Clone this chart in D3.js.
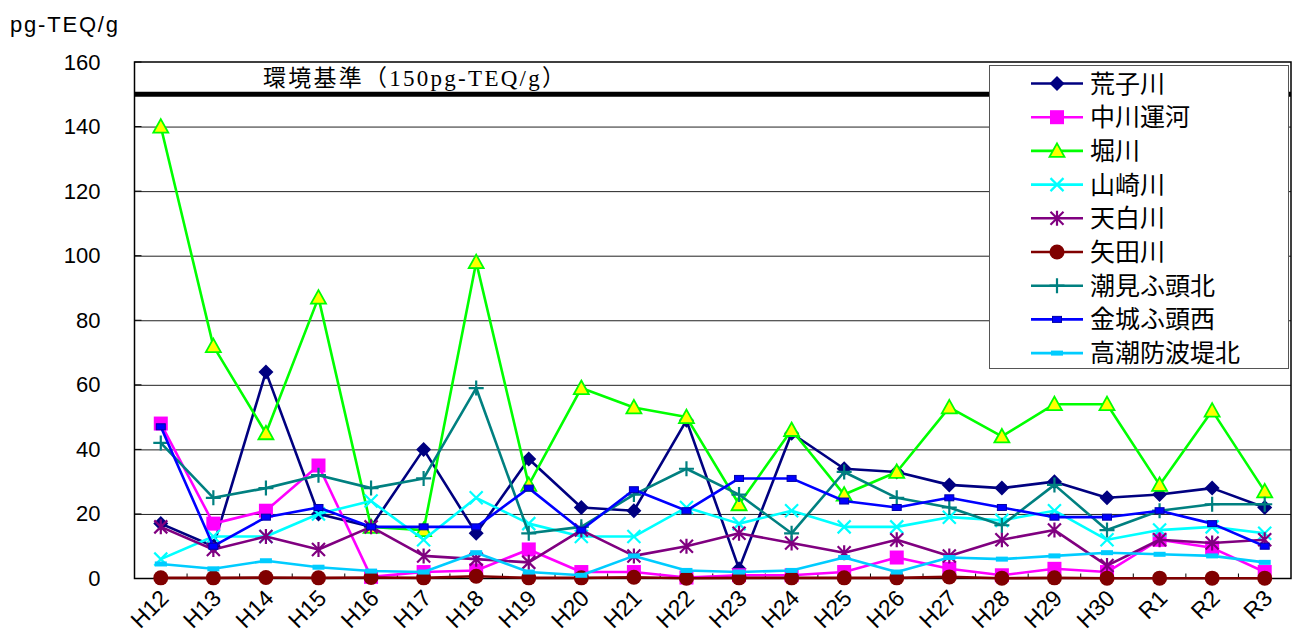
<!DOCTYPE html>
<html lang="ja">
<head>
<meta charset="utf-8">
<script src="https://cdn.jsdelivr.net/npm/d3@7"></script>
<style>
  html, body { margin: 0; padding: 0; background: #fff; }
  svg { display: block; }
</style>
</head>
<body>
<svg id="chart" width="1300" height="635"></svg>
<script>
// 年度
const years = ["H12","H13","H14","H15","H16","H17","H18","H19","H20","H21","H22",
               "H23","H24","H25","H26","H27","H28","H29","H30","R1","R2","R3"];

// 各地点のダイオキシン類濃度 (pg-TEQ/g)
const arakogawa   = [17,10,64,20,16,40,14,37,22,21,49,3,45,34,33,29,28,30,25,26,28,22];
const nakagawa    = [48,17,21,35,0.5,2,2.5,9,2,2,0.3,1,1,2,6.5,3,1,3,2,12,9.5,2];
const horikawa    = [140,72,45,87,16,15,98,29,59,53,50,23,46,26,33,53,44,54,54,29,52,27];
const yamazaki    = [6,13,13,20,24,12,25,17,13,13,22,17,21,16,16,19,18,21,12,15,16,14];
const tempaku     = [16,9,13,9,16,7,6,5,15,7,10,14,11,8,12,7,12,15,4,12,11,12];
const yadagawa    = [0.2,0.2,0.3,0.2,0.3,0.2,0.7,0.2,0.2,0.4,0.1,0.2,0.2,0.2,0.2,0.5,0.1,0.2,0.1,0.1,0.1,0.1];
const shiomi      = [42,25,28,32,28,31,59,14,16,26,34,26,14,33,25,22,16.5,29,15,21,23,23];
const kinjo       = [47,10,19,22,16,16,16,28,15,27.5,21,31,31,24,22,25,22,19,19,21,17,10];
const takashio    = [4.5,3,5.5,3.5,2.3,2,8,2,1,7,2.5,2,2.5,6.5,2,6.5,6,7,8,7.5,7,5];

// 目盛
const yTicks = [0,20,40,60,80,100,120,140,160];
const standardValue = 150;
const standardLabel = "環境基準（150pg-TEQ/g）";
const unitLabel = "pg-TEQ/g";

// 系列名・色・マーカー
const seriesNames  = ["荒子川","中川運河","堀川","山崎川","天白川","矢田川","潮見ふ頭北","金城ふ頭西","高潮防波堤北"];
const seriesValues = [arakogawa, nakagawa, horikawa, yamazaki, tempaku, yadagawa, shiomi, kinjo, takashio];
const seriesColors = ["#000080","#FF00FF","#00FF00","#00FFFF","#800080","#800000","#008080","#0000FF","#00CCFF"];
const seriesMarks  = ["diamond","square","triangle","cross","asterisk","circle","plus","dash","bar"];

const SANS = '"Liberation Sans", Arial, sans-serif';
const SERIF = '"Liberation Serif", "Noto Sans CJK JP", serif';
const CJK = '"Noto Sans CJK JP", sans-serif';

const svg = d3.select("#chart");

const plot = { left: 134.5, right: 1291, top: 62, bottom: 578.5 };

const x = d3.scaleBand().domain(years).range([plot.left, plot.right]).paddingInner(0).paddingOuter(0);
const cx = d => x(d) + x.bandwidth() / 2;
const y = d3.scaleLinear().domain([0, 160]).range([plot.bottom, plot.top]);

// 横目盛線
const grid = svg.append("g")
  .attr("transform", `translate(${plot.left},0)`)
  .call(d3.axisLeft(y).tickValues(yTicks.filter(v => v > 0 && v < 160))
        .tickSize(-(plot.right - plot.left)).tickFormat(""));
grid.select(".domain").remove();
grid.selectAll(".tick line").attr("stroke", "#222").attr("stroke-width", 1);

// 縦軸ラベル
const yAxis = svg.append("g")
  .attr("transform", `translate(${plot.left},0)`)
  .call(d3.axisLeft(y).tickValues(yTicks).tickSize(0).tickPadding(34));
yAxis.select(".domain").remove();
yAxis.selectAll("text")
  .style("font-family", SANS)
  .style("font-size", "22px").attr("fill", "#000");

// 縦軸の内向き目盛
svg.append("g").selectAll("line").data(yTicks).join("line")
  .attr("x1", plot.left).attr("x2", plot.left + 7)
  .attr("y1", d => y(d)).attr("y2", d => y(d))
  .attr("stroke", "#000").attr("stroke-width", 1);

// 横軸の区切り目盛
svg.append("g").selectAll("line").data(years.slice(1)).join("line")
  .attr("x1", d => x(d)).attr("x2", d => x(d))
  .attr("y1", plot.bottom).attr("y2", plot.bottom - 5)
  .attr("stroke", "#000").attr("stroke-width", 1);

// 横軸ラベル
const xAxis = svg.append("g")
  .attr("transform", `translate(0,${plot.bottom})`)
  .call(d3.axisBottom(x).tickSize(0).tickFormat(d => d));
xAxis.select(".domain").remove();
xAxis.selectAll("text")
  .style("font-family", SANS)
  .style("font-size", "23px").attr("fill", "#000")
  .attr("text-anchor", "end")
  .attr("x", 0).attr("y", 0).attr("dy", "0.75em")
  .attr("transform", "translate(-3,9) rotate(-45)");

// 外枠
svg.append("rect")
  .attr("x", plot.left).attr("y", plot.top)
  .attr("width", plot.right - plot.left).attr("height", plot.bottom - plot.top)
  .attr("fill", "none").attr("stroke", "#000").attr("stroke-width", 1.5);

// 環境基準線
svg.append("line")
  .attr("x1", plot.left).attr("x2", plot.right)
  .attr("y1", y(standardValue)).attr("y2", y(standardValue))
  .attr("stroke", "#000").attr("stroke-width", 5);
svg.append("text")
  .attr("x", 263).attr("y", 86)
  .style("font-family", SERIF)
  .style("font-size", "23px").attr("fill", "#000")
  .attr("textLength", 302).attr("lengthAdjust", "spacing")
  .text(standardLabel);

// 単位
svg.append("text")
  .attr("x", 10).attr("y", 32)
  .style("font-family", SANS)
  .style("font-size", "22px").attr("fill", "#000")
  .attr("textLength", 108).attr("lengthAdjust", "spacing")
  .text(unitLabel);

// マーカー描画
function drawMark(g, type, color) {
  switch (type) {
    case "diamond":
      g.append("path").attr("d", "M0,-7.5L7.5,0L0,7.5L-7.5,0Z").attr("fill", color); break;
    case "square":
      g.append("rect").attr("x", -7).attr("y", -7).attr("width", 14).attr("height", 14).attr("fill", color); break;
    case "triangle":
      g.append("path").attr("d", "M0,-7.5L7.5,6L-7.5,6Z").attr("fill", "#FFFF00")
        .attr("stroke", color).attr("stroke-width", 1.8); break;
    case "cross":
      g.append("path").attr("d", "M-6.5,-6.5L6.5,6.5M-6.5,6.5L6.5,-6.5")
        .attr("stroke", color).attr("stroke-width", 2.2); break;
    case "asterisk":
      g.append("path").attr("d", "M-6.5,-6.5L6.5,6.5M-6.5,6.5L6.5,-6.5M0,-7.5L0,7.5")
        .attr("stroke", color).attr("stroke-width", 2.2); break;
    case "circle":
      g.append("circle").attr("r", 7.5).attr("fill", color); break;
    case "plus":
      g.append("path").attr("d", "M-7.5,0L7.5,0M0,-7.5L0,7.5")
        .attr("stroke", color).attr("stroke-width", 2.2); break;
    case "dash":
      g.append("rect").attr("x", -4.5).attr("y", -3).attr("width", 9).attr("height", 6)
        .attr("fill", color).attr("stroke", "#0000AA").attr("stroke-width", 1); break;
    case "bar":
      g.append("rect").attr("x", -6).attr("y", -2.5).attr("width", 12).attr("height", 5)
        .attr("fill", color); break;
  }
}

const line = d3.line().x(d => cx(d.year)).y(d => y(d.value));

seriesNames.forEach((name, i) => {
  const pts = years.map((yr, j) => ({ year: yr, value: seriesValues[i][j] }));
  const g = svg.append("g");
  g.append("path").datum(pts).attr("d", line)
    .attr("fill", "none").attr("stroke", seriesColors[i]).attr("stroke-width", 2.6)
    .attr("stroke-linejoin", "round");
  pts.forEach(p => {
    const m = g.append("g").attr("transform", `translate(${cx(p.year)},${y(p.value)})`);
    drawMark(m, seriesMarks[i], seriesColors[i]);
  });
});

// 凡例
const legend = svg.append("g");
legend.append("rect")
  .attr("x", 989.5).attr("y", 65.5).attr("width", 299).attr("height", 303)
  .attr("fill", "#fff").attr("stroke", "#555").attr("stroke-width", 1);
seriesNames.forEach((name, i) => {
  const ly = 83.5 + i * 33.7;
  const row = legend.append("g").attr("transform", `translate(0,${ly})`);
  row.append("line").attr("x1", 1031).attr("x2", 1083).attr("y1", 0).attr("y2", 0)
    .attr("stroke", seriesColors[i]).attr("stroke-width", 2.6);
  const m = row.append("g").attr("transform", "translate(1057,0)");
  drawMark(m, seriesMarks[i], seriesColors[i]);
  row.append("text").attr("x", 1090).attr("y", 0).attr("dy", "0.36em")
    .style("font-family", CJK)
    .style("font-size", "25px").attr("fill", "#000")
    .text(name);
});
</script>
</body>
</html>
